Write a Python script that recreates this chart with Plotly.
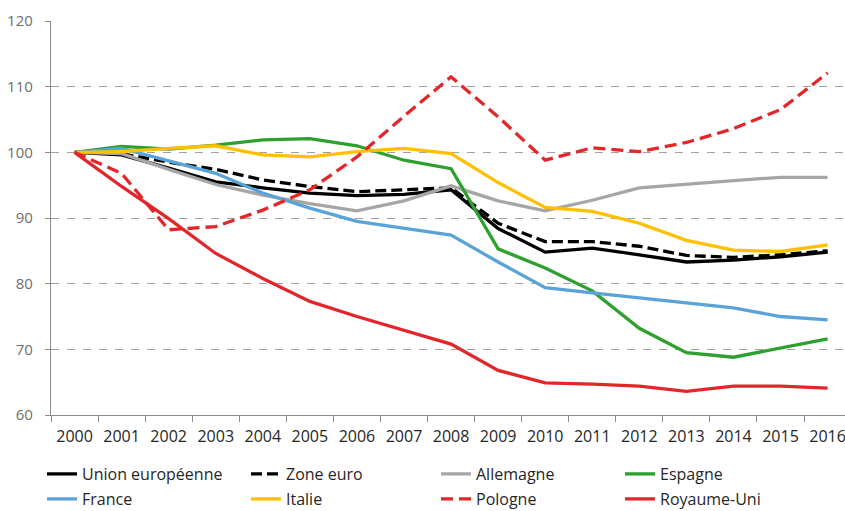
import plotly.graph_objects as go

years = [str(y) for y in range(2000, 2017)]

union_europeenne = [100, 99.6, 97.6, 95.5, 94.6, 93.8, 93.4, 93.6, 94.3, 88.4, 84.8, 85.4, 84.4, 83.3, 83.6, 84.1, 84.8]
zone_euro = [100, 99.8, 98.5, 97.4, 95.8, 94.8, 94.0, 94.3, 94.6, 89.2, 86.4, 86.4, 85.7, 84.3, 84.0, 84.4, 85.0]
allemagne = [100, 99.8, 97.4, 95.1, 93.5, 92.2, 91.1, 92.6, 94.9, 92.6, 91.1, 92.7, 94.6, 95.2, 95.7, 96.2, 96.2]
espagne = [100, 100.9, 100.5, 101.1, 101.9, 102.1, 101.0, 98.8, 97.5, 85.3, 82.4, 78.9, 73.2, 69.5, 68.8, 70.2, 71.6]
france = [100, 100.6, 98.7, 96.8, 93.8, 91.5, 89.5, 88.4, 87.4, 83.3, 79.4, 78.6, 77.8, 77.0, 76.3, 75.0, 74.5]
italie = [100, 100.1, 100.6, 101.0, 99.6, 99.3, 100.1, 100.6, 99.8, 95.4, 91.6, 91.0, 89.2, 86.6, 85.1, 84.9, 85.9]
pologne = [100, 96.8, 88.2, 88.7, 91.2, 94.3, 99.3, 105.5, 111.5, 105.4, 98.8, 100.7, 100.1, 101.5, 103.6, 106.5, 112.1]
royaume_uni = [100, 94.8, 89.9, 84.6, 80.8, 77.3, 75.0, 72.9, 70.8, 66.8, 64.9, 64.7, 64.4, 63.6, 64.4, 64.4, 64.1]

series = [
    ("Union européenne", union_europeenne, "#000000", "solid"),
    ("Zone euro", zone_euro, "#000000", "11px,5px"),
    ("Allemagne", allemagne, "#A6A6A6", "solid"),
    ("Espagne", espagne, "#2EA02E", "solid"),
    ("France", france, "#5AA3D8", "solid"),
    ("Italie", italie, "#FFC000", "solid"),
    ("Pologne", pologne, "#E3262A", "12px,6px"),
    ("Royaume-Uni", royaume_uni, "#E3262A", "solid"),
]

# legend grid: 4 columns x 2 rows below the axis (pixel positions in the page)
col_px = [42, 246, 436, 620]
row_px = [474, 499]
W, H = 845, 511

fig = go.Figure()
legend_layouts = {}
for i, (name, vals, color, dash) in enumerate(series):
    key = "legend" if i == 0 else f"legend{i + 1}"
    fig.add_trace(go.Scatter(
        x=years, y=vals, name=name, mode="lines",
        line=dict(color=color, width=3.3, dash=dash),
        legend=key,
    ))
    legend_layouts[key] = dict(
        xref="container", yref="container",
        x=col_px[i % 4] / W, xanchor="left",
        y=(H - row_px[i // 4]) / H, yanchor="middle",
        font=dict(family="Open Sans", size=16, color="#262626"),
        itemwidth=30, bgcolor="rgba(0,0,0,0)", borderwidth=0,
    )

fig.update_layout(
    width=W, height=H,
    margin=dict(l=51, r=0, t=21, b=96, autoexpand=False),
    paper_bgcolor="white", plot_bgcolor="white",
    font=dict(family="Open Sans", size=16, color="#262626"),
    showlegend=True,
    xaxis=dict(
        type="category", range=[-0.5, 16.37],
        showgrid=False, showline=True, linecolor="#8C8C8C", linewidth=1.3,
        ticks="outside", tickson="boundaries", ticklen=6, tickcolor="#8C8C8C",
        ticklabelstandoff=7, tickangle=0, automargin=False,
        tickfont=dict(family="Open Sans", size=16, color="#262626"),
    ),
    yaxis=dict(
        range=[60, 120], dtick=10, tick0=60,
        showgrid=True, gridcolor="#A0A0A0", griddash="8px,8px", gridwidth=1,
        showline=True, linecolor="#8C8C8C", linewidth=1.3,
        ticks="outside", ticklen=5, tickcolor="#8C8C8C",
        ticklabelstandoff=9, automargin=False,
        tickfont=dict(family="Open Sans", size=15, color="#6E6E6E"),
        zeroline=False,
    ),
    **legend_layouts,
)

fig.write_html("out.html")
